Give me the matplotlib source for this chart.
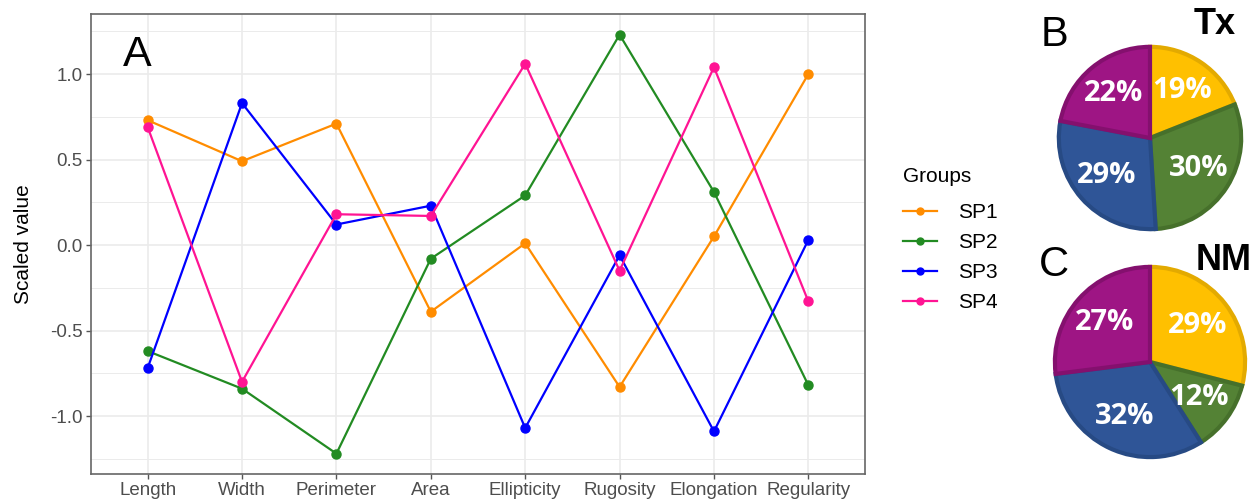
import matplotlib
matplotlib.use('Agg')
import matplotlib.pyplot as plt
from matplotlib.lines import Line2D
import numpy as np

# ---------------- data ----------------
categories = ['Length', 'Width', 'Perimeter', 'Area', 'Ellipticity',
              'Rugosity', 'Elongation', 'Regularity']
sp1 = [0.73, 0.49, 0.71, -0.39, 0.01, -0.83, 0.05, 1.00]
sp2 = [-0.62, -0.84, -1.22, -0.08, 0.29, 1.23, 0.31, -0.82]
sp3 = [-0.72, 0.83, 0.12, 0.23, -1.07, -0.06, -1.09, 0.03]
sp4 = [0.69, -0.80, 0.18, 0.17, 1.06, -0.15, 1.04, -0.33]
group_names = ['SP1', 'SP2', 'SP3', 'SP4']
yticks = [-1.0, -0.5, 0.0, 0.5, 1.0]
ytick_labels = ['-1.0', '-0.5', '0.0', '0.5', '1.0']

# pie shares (SP1 yellow, SP2 green, SP3 blue, SP4 purple)
tx_share = [19, 30, 29, 22]
nm_share = [29, 12, 32, 27]

# ---------------- style ----------------
line_colors = ['#FF8C00', '#228B22', '#0000FF', '#FF1493']
pie_colors = ['#FFC000', '#548235', '#2F5597', '#9E1584']
pie_edges = ['#E3AA00', '#46702B', '#274A84', '#84106E']

W, H = 1259, 499
fig = plt.figure(figsize=(W / 100, H / 100), dpi=100)
plt.rcParams['font.family'] = ['Liberation Sans', 'DejaVu Sans']

def fx(x):
    return x / W

def fy(y):
    return 1 - y / H

# main axes (pixel box: left 91, right 865, top 14, bottom 474)
ax = fig.add_axes([fx(91), fy(474), (865 - 91) / W, (474 - 14) / H])
x = np.arange(1, len(categories) + 1)
for vals, col, name in zip([sp1, sp2, sp3, sp4], line_colors, group_names):
    ax.plot(x, vals, color=col, lw=1.6, marker='o', ms=6.5, label=name, zorder=3)

ax.set_xlim(0.4, 8.6)
ax.set_ylim(-1.339, 1.351)
ax.set_xticks(x)
ax.set_xticklabels(categories)
ax.set_yticks(yticks)
ax.set_yticklabels(ytick_labels)
ax.set_yticks([-1.25, -0.75, -0.25, 0.25, 0.75, 1.25], minor=True)
ax.grid(which='major', color='#EBEBEB', lw=1.2, zorder=0)
ax.grid(which='minor', axis='y', color='#EBEBEB', lw=0.7, zorder=0)
ax.set_axisbelow(True)
ax.tick_params(axis='both', which='major', length=3.5, width=1.0, color='#555555',
               labelcolor='#4D4D4D', labelsize=13.5, pad=2.5)
ax.tick_params(axis='both', which='minor', length=0)
for s in ax.spines.values():
    s.set_color('#666666')
    s.set_linewidth(1.2)
ax.set_ylabel('Scaled value', fontsize=15, color='black', labelpad=12)
ax.text(0.06, 0.91, 'A', transform=ax.transAxes, fontsize=31, color='black',
        ha='center', va='center')

# legend
handles = [Line2D([0], [0], color=c, lw=1.6, marker='o', ms=5) for c in line_colors]
leg = fig.legend(handles, group_names, title='Groups', loc='upper left',
                 bbox_to_anchor=(fx(893), fy(157)), frameon=False, fontsize=15,
                 title_fontsize=15, handlelength=1.6, handletextpad=1.0,
                 labelspacing=0.53, borderpad=0, alignment='left')
leg._legend_box.sep = 12

# pies
def draw_pie(cx, cy, r, shares):
    pax = fig.add_axes([fx(cx - r), fy(cy + r), 2 * r / W, 2 * r / H])
    wedges, texts, autotexts = pax.pie(
        shares, colors=pie_colors, startangle=90, counterclock=False,
        autopct=lambda p: f'{round(p)}%', pctdistance=0.63,
        wedgeprops=dict(linewidth=3.0),
        textprops=dict(color='white', fontsize=21, fontweight='bold',
                       family=['Open Sans', 'DejaVu Sans']))
    for w, ec in zip(wedges, pie_edges):
        w.set_edgecolor(ec)
    pax.set_xlim(-1.02, 1.02)
    pax.set_ylim(-1.02, 1.02)
    pax.set_aspect('auto')
    pax.axis('off')
    return pax

draw_pie(1150, 138, 93, tx_share)
draw_pie(1150, 362, 97, nm_share)

fig.text(fx(1054), fy(35), 'B', fontsize=30, ha='center', va='center')
fig.text(fx(1054), fy(265), 'C', fontsize=30, ha='center', va='center')
fig.text(fx(1215), fy(25), 'Tx', fontsize=26, fontweight='bold', ha='center', va='center')
fig.text(fx(1224), fy(261), 'NM', fontsize=26, fontweight='bold', ha='center', va='center')

fig.savefig('out.png', dpi=100)
